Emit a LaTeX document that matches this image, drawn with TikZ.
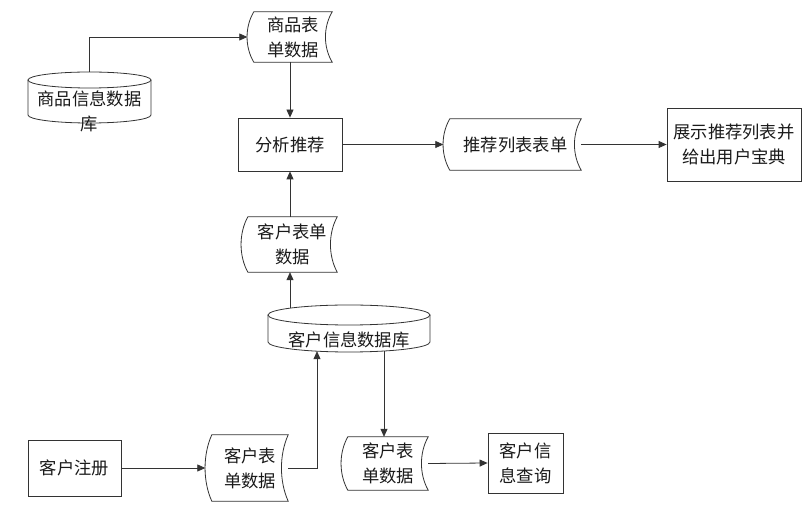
\documentclass[tikz,border=0pt]{standalone}
\usepackage{fontspec}
\setmainfont{Noto Sans CJK SC}
\usetikzlibrary{arrows.meta,calc}
\definecolor{ln}{HTML}{333333}
\definecolor{tx}{HTML}{1A1A1A}
\newcommand\stdshape[1]{%
  \draw[lnstyle] (#1.north west) -- (#1.north east)
    .. controls ($(#1.north east)!0.3!(#1.south east)+(-9,0)$) and ($(#1.north east)!0.7!(#1.south east)+(-9,0)$) .. (#1.south east)
    -- (#1.south west)
    .. controls ($(#1.south west)!0.3!(#1.north west)+(-9,0)$) and ($(#1.south west)!0.7!(#1.north west)+(-9,0)$) .. (#1.north west) -- cycle;}
\begin{document}
\begin{tikzpicture}[x=1pt,y=-1pt,
  lnstyle/.style={draw=ln, line width=0.8pt},
  lbl/.style={font=\fontsize{17.3}{25}\selectfont, text=tx, align=center, inner sep=0pt},
  procbox/.style={lbl, lnstyle},
  stored/.style={lbl},
  arr/.style={lnstyle, -{Triangle[length=8pt,width=7pt]}}]
\useasboundingbox[fill=white] (0,0) rectangle (807,510);

% stored-data shapes
\node[stored, minimum width=78pt, minimum height=50pt] (gd) at (293,37) {商品表\\单数据};
\node[stored, minimum width=131pt, minimum height=51pt] (tj) at (515.5,144.5) {推荐列表表单};
\node[stored, minimum width=89pt, minimum height=55pt] (kd1) at (292.5,244.5) {客户表单\\数据};
\node[stored, minimum width=76pt, minimum height=66pt] (kd2) at (250,468) {客户表\\单数据};
\node[stored, minimum width=80pt, minimum height=53pt] (kd3) at (388,463.5) {客户表\\单数据};
\stdshape{gd}
\stdshape{tj}
\stdshape{kd1}
\stdshape{kd2}
\stdshape{kd3}

% process boxes
\node[procbox, minimum width=104pt, minimum height=53pt] (fx) at (290,144.5) {分析推荐};
\node[procbox, minimum width=134pt, minimum height=73pt] (zs) at (734,144.5) {展示推荐列表并\\给出用户宝典};
\node[procbox, minimum width=93pt, minimum height=56pt] (reg) at (74.5,468) {客户注册};
\node[procbox, minimum width=75pt, minimum height=60pt] (qry) at (525.5,463) {客户信\\息查询};

% cylinder: goods database
\draw[lnstyle] (89.5,80) ellipse [x radius=61.5pt, y radius=8pt];
\draw[lnstyle] (28,80) -- (28,115) arc[start angle=180, end angle=360, x radius=61.5pt, y radius=8pt] -- (151,80);
\node[lbl] (gdb) at (89.5,111) {商品信息数据\\库};
\coordinate (gdbtop) at (89.5,72);

% cylinder: customer database
\draw[lnstyle] (349,315) ellipse [x radius=81pt, y radius=10pt];
\draw[lnstyle] (268,315) -- (268,342) arc[start angle=180, end angle=360, x radius=81pt, y radius=10pt] -- (430,315);
\node[lbl] (cdb) at (349,340) {客户信息数据库};
\coordinate (cdbtop) at (290,308.3);
\coordinate (cdbin) at (317,351.2);
\coordinate (cdbout) at (384,351);

% connectors
\draw[arr] (gdbtop) |- ($(gd.west)+(-6.5,0)$);
\draw[arr] (gd.south -| fx.north) -- (fx.north);
\draw[arr] (fx.east) -- ($(tj.west)+(-6.5,0)$);
\draw[arr] (tj.east) -- (zs.west);
\draw[arr] (kd1.north -| fx.south) -- (fx.south);
\draw[arr] (cdbtop) -- (cdbtop |- kd1.south);
\draw[arr] (reg.east) -- ($(kd2.west)+(-6.5,0)$);
\draw[arr] (kd2.east) -| (cdbin);
\draw[arr] (cdbout) -- (cdbout |- kd3.north);
\draw[arr] (kd3.east) -- (qry.west);
\end{tikzpicture}
\end{document}
